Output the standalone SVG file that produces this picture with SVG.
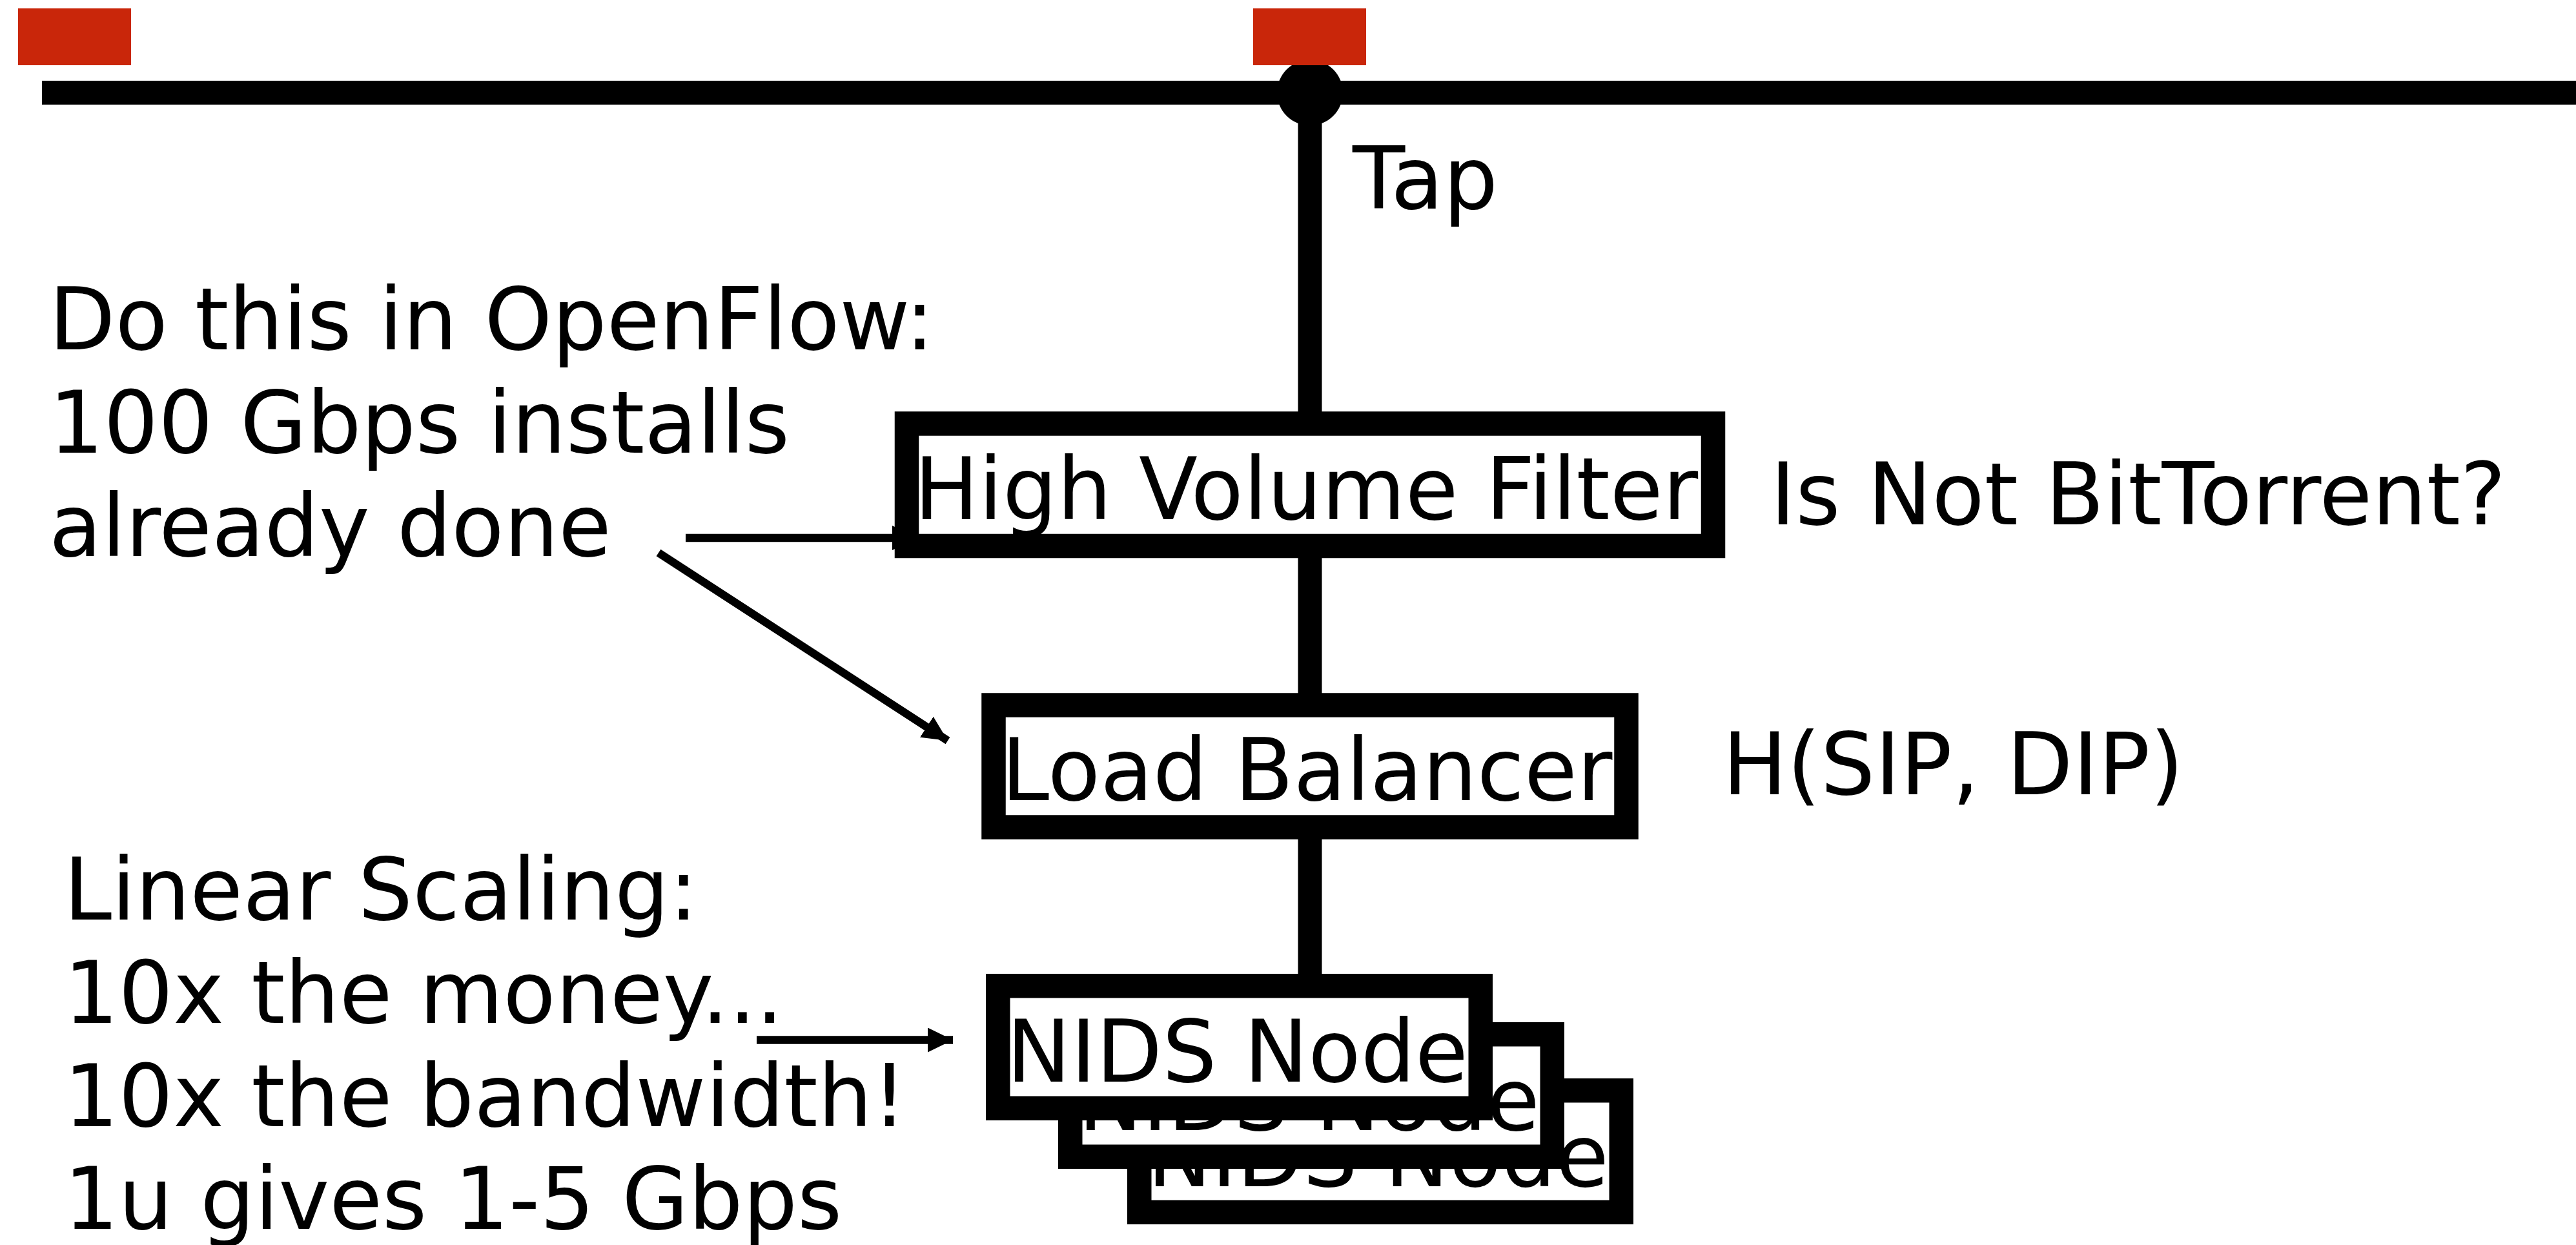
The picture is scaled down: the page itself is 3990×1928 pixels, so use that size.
<svg xmlns="http://www.w3.org/2000/svg" width="3990" height="1928" viewBox="0 0 3990 1928">
  <style>
    text { font-family: "DejaVu Sans", "Liberation Sans", sans-serif; font-size: 133px; fill: #000; }
    .box { fill: #fff; stroke: #000; stroke-width: 37.5; }
    .red { fill: #c9260a; }
    .wire { stroke: #000; stroke-width: 37; fill: none; }
    .arrow { stroke: #000; stroke-width: 12.5; fill: none; marker-end: url(#head); }
  </style>
  <defs>
    <marker id="head" markerUnits="userSpaceOnUse" markerWidth="40" markerHeight="40" refX="39" refY="19" orient="auto">
      <path d="M0,0 L39,19 L0,38 z" fill="#000"/>
    </marker>
  </defs>
  <rect width="3990" height="1928" fill="#fff"/>

  <g id="connectors">
    <line class="wire" x1="65" y1="143.5" x2="3990" y2="143.5"/>
    <line class="wire" x1="2029" y1="143.5" x2="2029" y2="1527"/>
    <circle cx="2029" cy="143.5" r="51" fill="#000"/>
    <line class="arrow" x1="1062" y1="833" x2="1421" y2="833"/>
    <line class="arrow" x1="1020" y1="856" x2="1468" y2="1147"/>
    <line class="arrow" x1="1172" y1="1610.5" x2="1476" y2="1610.5"/>
  </g>

  <g id="taps">
    <rect class="red" x="28" y="13" width="175" height="88"/>
    <rect class="red" x="1941" y="13" width="175" height="88"/>
  </g>

  <g id="tap-label"><text x="2095" y="323">Tap</text></g>

  <g id="high-volume-filter">
    <rect class="box" x="1404.5" y="656" width="1249" height="189.5"/>
    <text x="1416" y="804">High Volume Filter</text>
  </g>

  <g id="load-balancer">
    <rect class="box" x="1539" y="1092" width="980" height="189"/>
    <text x="1551" y="1239">Load Balancer</text>
  </g>

  <g id="nids-node-3">
    <rect class="box" x="1764.75" y="1688.75" width="746.5" height="188.5"/>
    <text x="1777" y="1837">NIDS Node</text>
  </g>
  <g id="nids-node-2">
    <rect class="box" x="1657.75" y="1601.75" width="746.5" height="189.5"/>
    <text x="1670" y="1750">NIDS Node</text>
  </g>
  <g id="nids-node-1">
    <rect class="box" x="1545.75" y="1526.75" width="747.5" height="189.5"/>
    <text x="1559" y="1675">NIDS Node</text>
  </g>

  <g id="openflow-note">
    <text x="76" y="541">Do this in OpenFlow:</text>
    <text x="76" y="701">100 Gbps installs</text>
    <text x="76" y="861">already done</text>
  </g>

  <g id="scaling-note">
    <text x="99" y="1424">Linear Scaling:</text>
    <text x="99" y="1584">10x the money...</text>
    <text x="99" y="1744">10x the bandwidth!</text>
    <text x="99" y="1903">1u gives 1-5 Gbps</text>
  </g>

  <g id="filter-label"><text x="2742" y="812">Is Not BitTorrent?</text></g>
  <g id="hash-label"><text x="2668" y="1230">H(SIP, DIP)</text></g>
</svg>
